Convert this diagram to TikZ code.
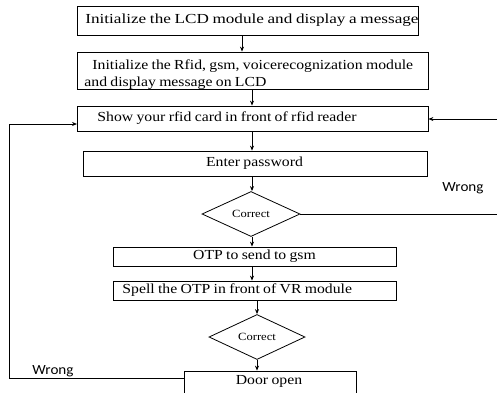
\documentclass[tikz,border=0pt]{standalone}
\usepackage{fontspec}
\setmainfont[FakeStretch=1.14,WordSpace=0.85]{Liberation Serif}
\newfontfamily\wrongfont[FakeStretch=1.08]{Carlito}
\usetikzlibrary{shapes.geometric,arrows.meta}
\begin{document}
\begin{tikzpicture}[x=1pt,y=-1pt,
  line width=0.8pt,
  box/.style={draw, rectangle, inner sep=0pt},
  txt/.style={inner sep=0pt, font=\fontsize{13.8}{16}\selectfont},
  dec/.style={draw, diamond, inner sep=0pt, font=\fontsize{11}{13}\selectfont},
  arr/.style={-{Stealth[length=5pt,width=4pt]}},
  wr/.style={font=\wrongfont\fontsize{14}{16}\selectfont}]
\useasboundingbox (0,0) rectangle (497,392);
\clip (0,0) rectangle (497,392);
% boxes
\node[box, minimum width=341pt, minimum height=29pt] (b1) at (247.5,20.5) {};
\node[txt, anchor=west] (t1) at (85,20) {\scalebox{1.09}[1]{Initialize the LCD module and display a message}};
\node[box, minimum width=351pt, minimum height=37pt] (b2) at (252.5,70.5) {};
\node[txt, anchor=west] (t2a) at (92,66) {Initialize the Rfid, gsm, voicerecognization module};
\node[txt, anchor=west] (t2b) at (84,83) {and display message on LCD};
\node[box, minimum width=351pt, minimum height=25pt] (b3) at (252.5,118.5) {};
\node[txt, anchor=west] (t3) at (97,118) {Show your rfid card in front of rfid reader};
\node[box, minimum width=344pt, minimum height=25pt] (b4) at (255,163.5) {};
\node[txt] (t4) at (254.5,163) {Enter password};
\node[dec, minimum width=98pt, minimum height=42pt] (d1) at (251,214) {Correct};
\node[box, minimum width=283pt, minimum height=19pt] (b5) at (254.5,256.5) {};
\node[txt] (t5) at (254.5,256.5) {OTP to send to gsm};
\node[box, minimum width=283pt, minimum height=19pt] (b6) at (254.5,290.5) {};
\node[txt, anchor=west] (t6) at (122,290) {Spell the OTP in front of VR module};
\node[dec, minimum width=96pt, minimum height=38pt] (d2) at (257,337) {Correct};
\node[box, minimum width=172pt, minimum height=25pt] (b7) at (270,383.5) {};
\node[txt] (t7) at (269,381) {Door open};
% labels
\node[wr] (w1) at (463,188) {Wrong};
\node[wr] (w2) at (53,371) {Wrong};
% helper coordinates
\coordinate (c1) at (242,0);
\coordinate (c2) at (252,0);
\coordinate (c3) at (257,0);
\coordinate (rt) at (497,119);
\coordinate (rb) at (497,214);
\coordinate (lb) at (9,378);
\coordinate (lt) at (9,124);
\coordinate (dl) at (184,378);
\coordinate (b3l) at (77,124);
% connectors
\draw[arr] (c1 |- b1.south) -- (c1 |- b2.north);
\draw[arr] (c2 |- b2.south) -- (c2 |- b3.north);
\draw[arr] (c2 |- b3.south) -- (c2 |- b4.north);
\draw[arr] (c2 |- b4.south) -- (c2 |- d1.north);
\draw[arr] (c2 |- d1.south) -- (c2 |- b5.north);
\draw[arr] (c2 |- b5.south) -- (c2 |- b6.north);
\draw[arr] (c3 |- b6.south) -- (d2.north);
\draw[arr] (d2.south) -- (c3 |- b7.north);
\draw (d1.east) -- (rb);
\draw[arr] (rt) -- (b3.east |- rt);
\draw[arr] (dl) -- (lb) -- (lt) -- (b3l);
\end{tikzpicture}
\end{document}
